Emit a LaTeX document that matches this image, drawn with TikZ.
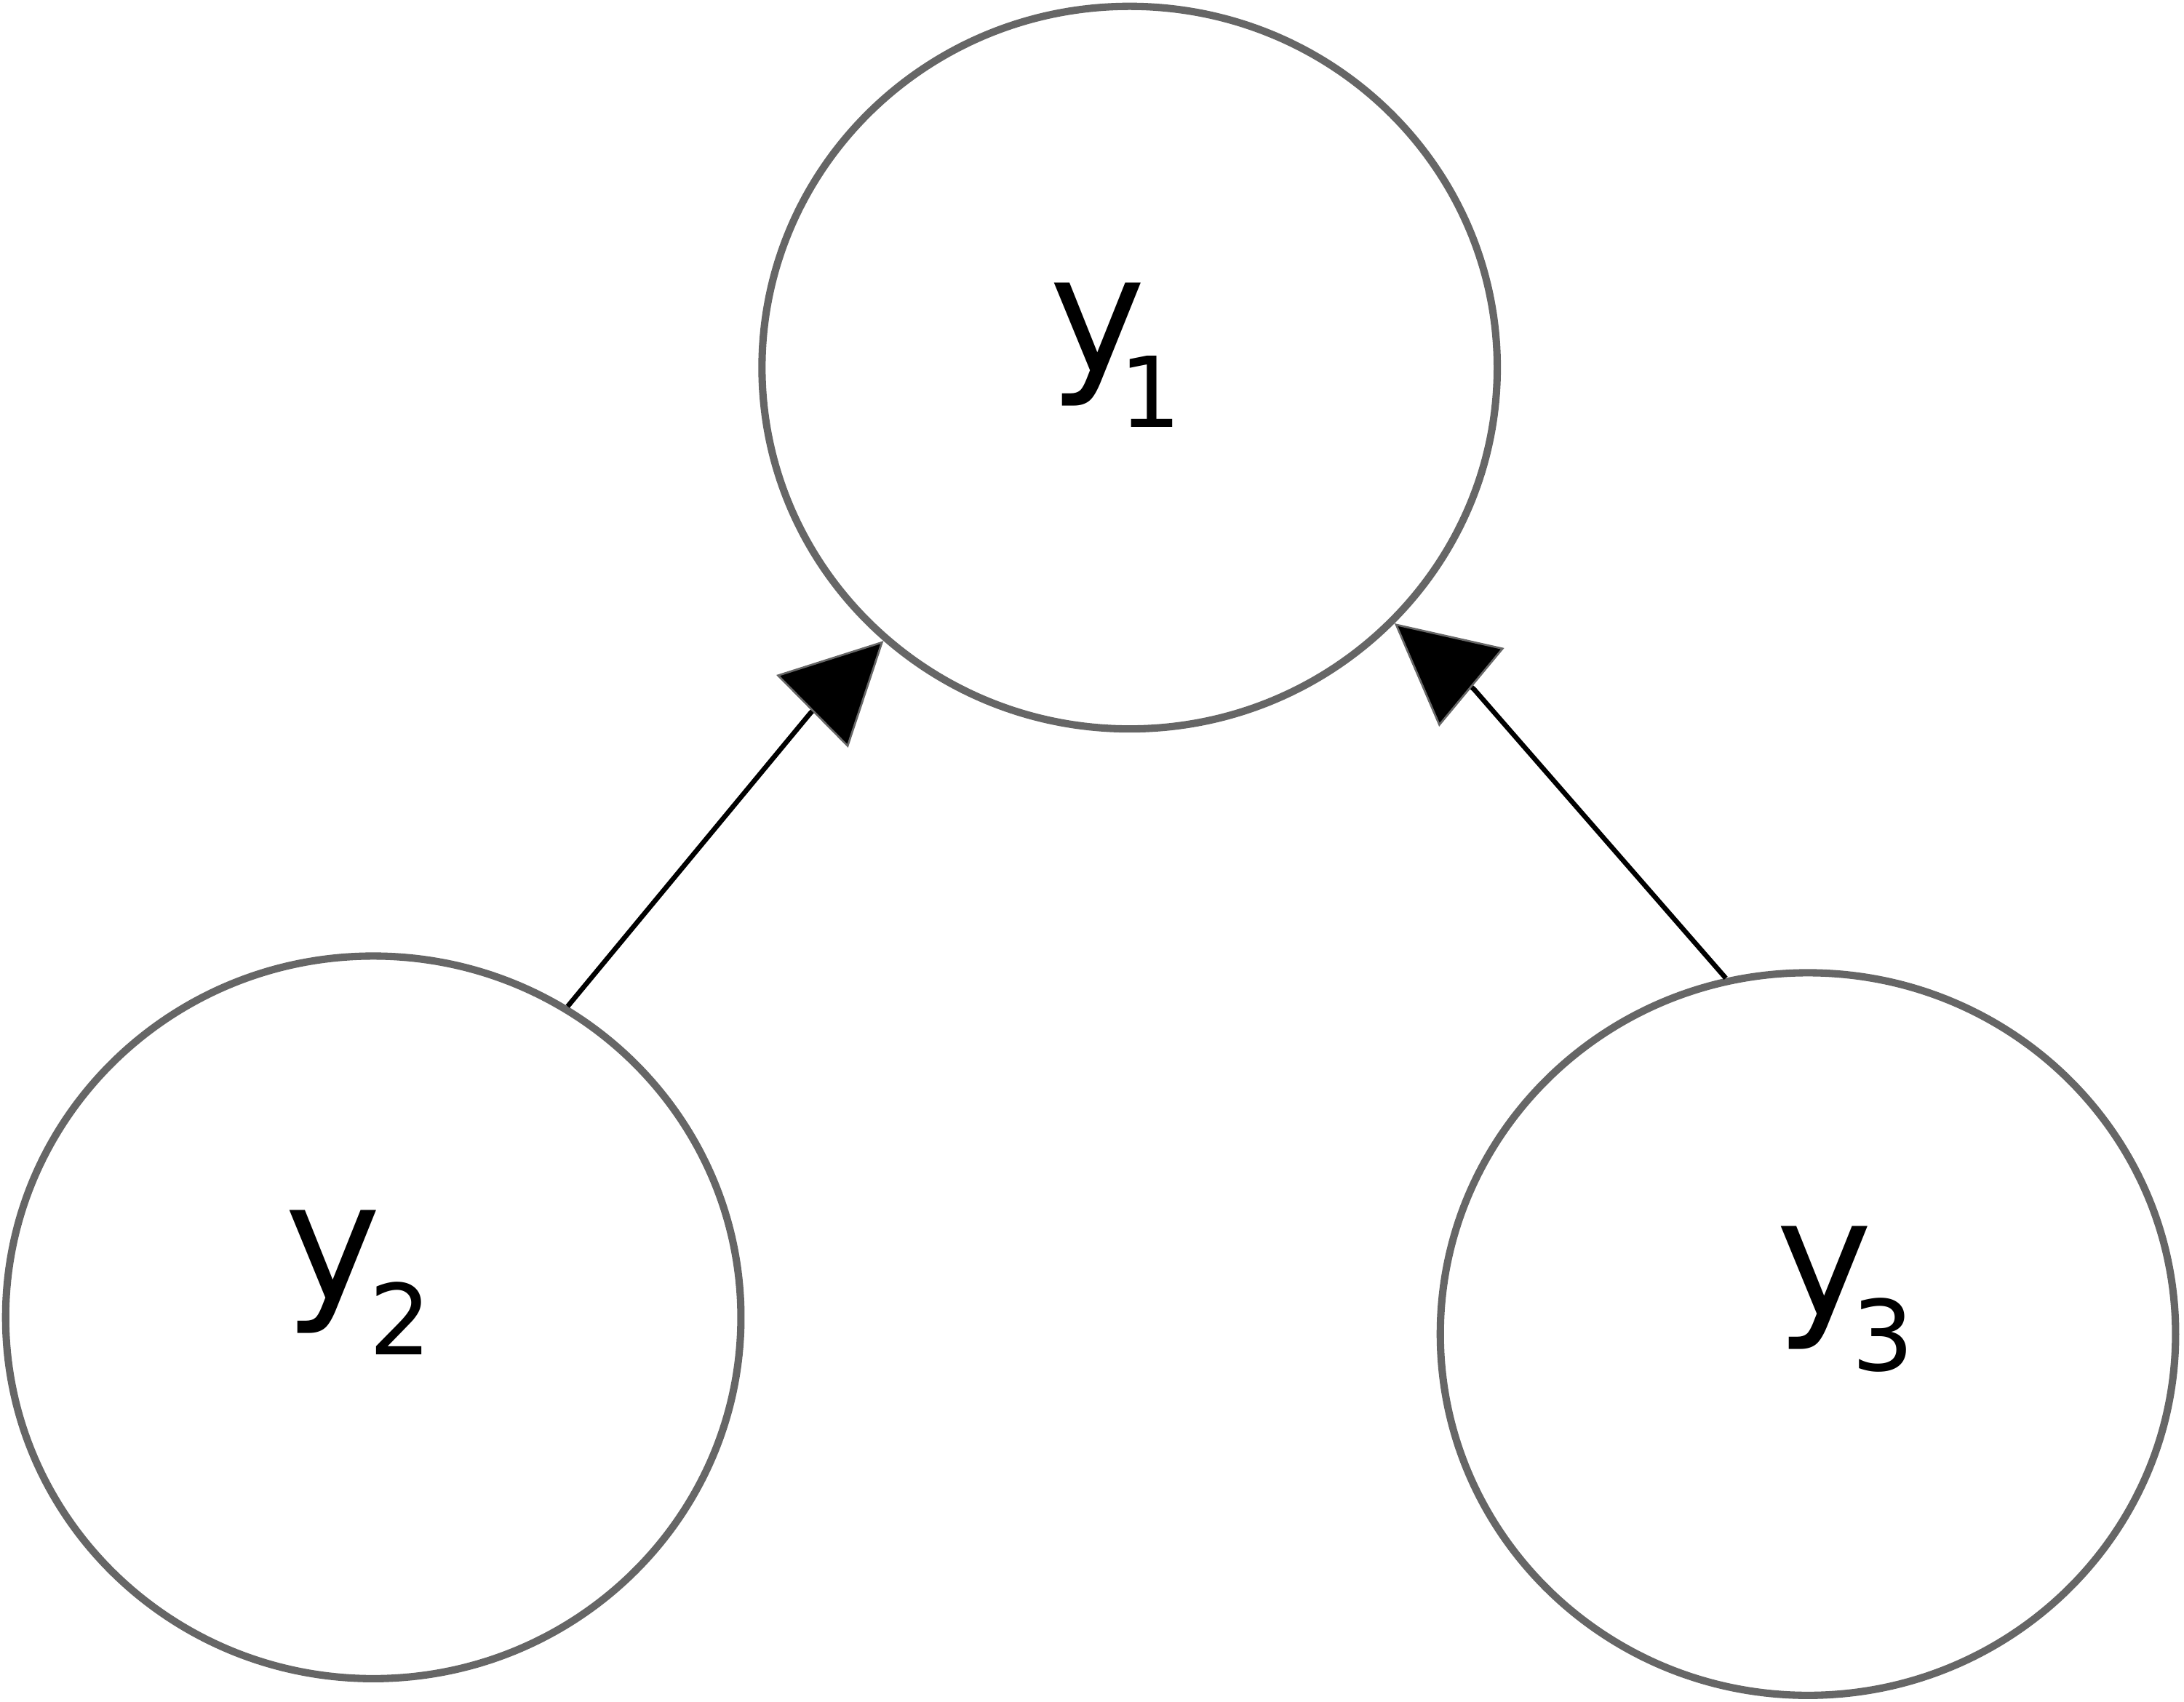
\documentclass[tikz,border=0pt]{standalone}
\usepackage{fontspec}
\setmainfont{DejaVu Sans}
\usetikzlibrary{shapes.geometric,arrows.meta}
\definecolor{rimgray}{HTML}{666666}
\newcommand{\yvar}[2]{{\fontsize{66.6pt}{70pt}\selectfont y}\kern#2\raisebox{-22.5pt}{\fontsize{40pt}{44pt}\selectfont #1}}

\begin{document}
\begin{tikzpicture}[x=0.02cm,y=-0.02cm]
    \tikzstyle{var}=[ellipse, draw=rimgray, line width=3pt, inner sep=0pt,
                     minimum width=10.56cm, minimum height=10.38cm]
    \tikzstyle{dep}=[line width=2pt, line join=round, -{Triangle[length=1.44cm, width=1.46cm, color=rimgray, fill=black, line width=0.8pt]}]
    \useasboundingbox (0,0) rectangle (1568,1222);
    % the three variables
    \node[var, label={[name=y1t, xshift=-0.2cm, yshift=0.18cm]center:\yvar{1}{-11pt}}] (y1) at (811,264) {};
    \node[var, label={[name=y2t, xshift=-0.22cm, yshift=0.5cm]center:\yvar{2}{-5pt}}] (y2) at (268,946) {};
    \node[var, label={[name=y3t, xshift=0.54cm, yshift=0.5cm]center:\yvar{3}{-8.5pt}}] (y3) at (1298,958) {};
    % bases of the two heads
    \coordinate (k1) at (581.9,512);
    \coordinate (k2) at (1058.2,494.9);
    % edges
    \draw[dep] (y2.58.5) -- (k1) -- (y1.228.8);
    \draw[dep] (y3.103.7) -- (k2) -- (y1.316.4);
\end{tikzpicture}
\end{document}
